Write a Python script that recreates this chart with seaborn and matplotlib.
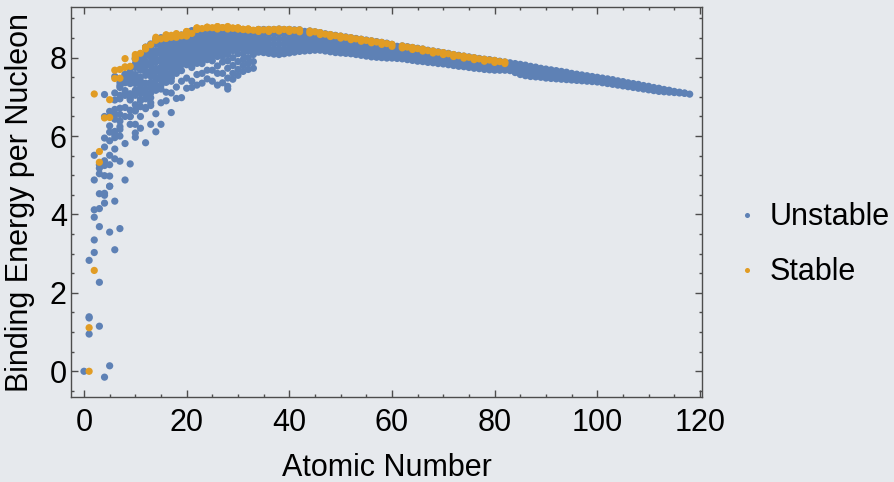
import matplotlib
matplotlib.use("Agg")
import matplotlib.pyplot as plt
from matplotlib.ticker import MultipleLocator
import pandas as pd
import seaborn as sns

# Binding energy per nucleon (MeV), grouped by atomic number.
# Light nuclei Z = 0..33: each isotope chain listed individually.
light_unstable = [
    [0.0],
    [2.83, 1.39, 1.36, 0.95],
    [5.51, 4.88, 4.12, 3.93, 3.35, 3.03],
    [1.15, 2.27, 5.27, 5.18, 5.04, 4.53, 4.15, 3.69],
    [-0.15, 4.49, 5.37, 7.06, 6.50, 5.95, 5.72, 5.25, 4.99, 4.54, 4.29],
    [0.14, 3.55, 4.72, 6.26, 6.63, 6.50, 6.10, 5.88, 5.51, 5.27, 4.98, 4.72],
    [3.10, 4.34, 6.03, 6.68, 7.52, 7.10, 6.92, 6.56, 6.43, 6.12, 5.96, 5.67, 5.42],
    [3.64, 5.36, 6.17, 7.24, 7.37, 7.29, 7.04, 6.95, 6.71, 6.55, 6.38, 6.24, 6.00],
    [4.88, 5.81, 7.05, 7.46, 7.57, 7.57, 7.39, 7.36, 7.16, 7.04, 6.73, 6.50],
    [5.29, 6.50, 6.96, 7.54, 7.63, 7.72, 7.74, 7.62, 7.46, 7.34, 7.08, 6.92, 6.66, 6.50, 6.30],
    [5.97, 6.08, 6.64, 7.34, 7.57, 7.96, 7.99, 7.84, 7.75, 7.52, 7.39, 7.17, 7.04, 6.80, 6.67, 6.30],
    [6.20, 6.94, 7.30, 7.77, 7.92, 8.06, 8.10, 8.00, 7.96, 7.80, 7.68, 7.50, 7.40, 7.22, 7.10, 6.90, 6.75, 6.50],
    [5.83, 6.73, 7.11, 7.66, 7.90, 8.26, 8.27, 8.11, 8.05, 7.87, 7.80, 7.64, 7.55, 7.35, 7.20, 7.05, 6.95, 6.70],
    [6.30, 6.78, 7.34, 7.65, 8.02, 8.15, 8.31, 8.35, 8.26, 8.23, 8.10, 8.02, 7.86, 7.79, 7.62, 7.53, 7.37, 7.25, 7.10, 6.98, 6.85],
    [6.11, 6.57, 7.17, 7.48, 7.92, 8.12, 8.46, 8.48, 8.36, 8.34, 8.17, 8.09, 7.95, 7.89, 7.73, 7.64, 7.48, 7.42, 7.28, 7.18],
    [6.30, 6.85, 7.20, 7.66, 7.91, 8.25, 8.35, 8.46, 8.51, 8.45, 8.45, 8.31, 8.27, 8.14, 8.10, 7.97, 7.91, 7.76, 7.68, 7.55, 7.45, 7.30],
    [6.90, 7.12, 7.48, 7.75, 8.12, 8.28, 8.54, 8.46, 8.45, 8.34, 8.33, 8.23, 8.19, 8.06, 7.99, 7.85, 7.77, 7.62, 7.50, 7.37],
    [6.60, 7.10, 7.48, 7.87, 8.07, 8.30, 8.40, 8.52, 8.51, 8.49, 8.43, 8.41, 8.33, 8.29, 8.18, 8.11, 7.97, 7.88, 7.75, 7.62, 7.50, 7.40],
    [6.96, 7.25, 7.70, 7.93, 8.20, 8.33, 8.53, 8.56, 8.53, 8.56, 8.49, 8.49, 8.42, 8.41, 8.29, 8.21, 8.07, 7.97, 7.84, 7.75, 7.60],
    [6.98, 7.40, 7.67, 7.97, 8.14, 8.34, 8.44, 8.54, 8.55, 8.58, 8.55, 8.55, 8.52, 8.51, 8.43, 8.37, 8.29, 8.22, 8.12, 8.03, 7.90, 7.82],
    [7.22, 7.48, 7.82, 8.00, 8.24, 8.37, 8.55, 8.63, 8.64, 8.59, 8.55, 8.48, 8.43, 8.33, 8.25, 8.15, 8.06, 7.95, 7.85],
    [7.24, 7.40, 7.75, 8.01, 8.17, 8.37, 8.44, 8.53, 8.56, 8.62, 8.67, 8.66, 8.69, 8.63, 8.60, 8.53, 8.48, 8.39, 8.31, 8.22, 8.13, 8.03, 7.95, 7.85],
    [7.30, 7.57, 7.86, 8.03, 8.26, 8.35, 8.53, 8.56, 8.71, 8.69, 8.63, 8.60, 8.52, 8.47, 8.38, 8.32, 8.21, 8.14, 8.03, 7.96, 7.86],
    [7.35, 7.60, 7.85, 8.07, 8.21, 8.38, 8.49, 8.58, 8.62, 8.68, 8.71, 8.71, 8.66, 8.64, 8.57, 8.54, 8.46, 8.41, 8.32, 8.26, 8.17, 8.10, 8.00, 7.92],
    [7.46, 7.68, 7.95, 8.09, 8.30, 8.41, 8.57, 8.61, 8.71, 8.73, 8.72, 8.66, 8.64, 8.56, 8.53, 8.45, 8.40, 8.30, 8.24, 8.14, 8.08, 7.98],
    [7.40, 7.68, 7.92, 8.14, 8.27, 8.44, 8.53, 8.63, 8.67, 8.73, 8.74, 8.74, 8.74, 8.70, 8.68, 8.63, 8.60, 8.53, 8.49, 8.41, 8.36, 8.27, 8.21, 8.12, 8.05],
    [7.30, 7.60, 7.79, 8.03, 8.16, 8.35, 8.46, 8.61, 8.65, 8.75, 8.75, 8.76, 8.70, 8.69, 8.63, 8.61, 8.53, 8.50, 8.41, 8.36, 8.27, 8.22, 8.12, 8.06],
    [7.36, 7.60, 7.89, 8.09, 8.20, 8.48, 8.57, 8.67, 8.69, 8.74, 8.74, 8.75, 8.76, 8.72, 8.72, 8.68, 8.66, 8.60, 8.57, 8.50, 8.46, 8.38, 8.33, 8.25, 8.19, 8.10, 8.04],
    [7.20, 7.27, 7.48, 7.73, 7.92, 8.08, 8.22, 8.39, 8.50, 8.64, 8.67, 8.74, 8.76, 8.74, 8.74, 8.70, 8.68, 8.62, 8.60, 8.54, 8.51, 8.44, 8.40, 8.33, 8.28, 8.20, 8.14],
    [7.45, 7.60, 7.80, 8.00, 8.23, 8.36, 8.50, 8.57, 8.64, 8.67, 8.72, 8.72, 8.74, 8.73, 8.74, 8.70, 8.70, 8.65, 8.64, 8.59, 8.57, 8.51, 8.48, 8.42, 8.38, 8.31, 8.26, 8.18],
    [7.55, 7.70, 7.90, 8.10, 8.23, 8.40, 8.47, 8.58, 8.61, 8.68, 8.69, 8.72, 8.72, 8.69, 8.69, 8.65, 8.64, 8.59, 8.58, 8.53, 8.51, 8.45, 8.42, 8.35, 8.30],
    [7.65, 7.80, 7.95, 8.10, 8.24, 8.35, 8.45, 8.52, 8.58, 8.66, 8.67, 8.71, 8.70, 8.72, 8.69, 8.69, 8.66, 8.66, 8.62, 8.61, 8.57, 8.55, 8.51, 8.48, 8.42, 8.37, 8.30],
    [7.70, 7.85, 8.00, 8.17, 8.26, 8.37, 8.46, 8.53, 8.57, 8.63, 8.68, 8.70, 8.70, 8.67, 8.67, 8.63, 8.63, 8.58, 8.56, 8.50, 8.46, 8.40, 8.35],
    [7.73, 7.90, 8.08, 8.20, 8.30, 8.41, 8.47, 8.55, 8.58, 8.64, 8.66, 8.69, 8.68, 8.68, 8.69, 8.67, 8.68, 8.65, 8.65, 8.60, 8.58, 8.52, 8.48, 8.43, 8.38],
]

light_stable = [
    [], [0.0, 1.112], [2.573, 7.074], [5.332, 5.606], [6.463], [6.475, 6.928],
    [7.680, 7.470], [7.476, 7.699], [7.976, 7.751, 7.767], [7.779], [8.032, 7.972, 8.080],
    [8.112], [8.261, 8.223, 8.264], [8.332], [8.448, 8.448, 8.521], [8.481],
    [8.493, 8.498, 8.583, 8.575], [8.520, 8.570], [8.520, 8.614, 8.595], [8.557, 8.576],
    [8.551, 8.600, 8.595, 8.658, 8.668, 8.666], [8.619], [8.723, 8.739, 8.760, 8.756, 8.723],
    [8.742], [8.776, 8.760, 8.778], [8.765], [8.732, 8.790, 8.770, 8.792], [8.768],
    [8.732, 8.781, 8.765, 8.795, 8.764], [8.752, 8.757], [8.736, 8.760, 8.732, 8.756, 8.754],
    [8.718, 8.726], [8.732, 8.732, 8.716, 8.705], [8.701],
]

# Heavier nuclei Z = 34..118: the unstable points form a dense band,
# listed column by column from its lower to its upper edge.
heavy_unstable = [
    [8.14, 8.26, 8.38, 8.50, 8.61, 8.72],
    [8.13, 8.25, 8.37, 8.49, 8.61, 8.72],
    [8.11, 8.23, 8.35, 8.47, 8.60, 8.72],
    [8.09, 8.21, 8.34, 8.47, 8.60, 8.72],
    [8.08, 8.21, 8.34, 8.47, 8.60, 8.73],
    [8.10, 8.22, 8.35, 8.47, 8.60, 8.72],
    [8.12, 8.24, 8.36, 8.48, 8.60, 8.72],
    [8.14, 8.25, 8.37, 8.48, 8.60, 8.71],
    [8.16, 8.27, 8.38, 8.49, 8.60, 8.71],
    [8.17, 8.28, 8.39, 8.50, 8.61, 8.67],
    [8.18, 8.28, 8.38, 8.48, 8.58, 8.68],
    [8.19, 8.29, 8.39, 8.48, 8.57, 8.66],
    [8.19, 8.28, 8.37, 8.46, 8.55, 8.64],
    [8.17, 8.26, 8.35, 8.44, 8.53, 8.61],
    [8.15, 8.24, 8.33, 8.42, 8.51, 8.59],
    [8.13, 8.22, 8.31, 8.40, 8.49, 8.57],
    [8.12, 8.21, 8.30, 8.38, 8.47, 8.55],
    [8.11, 8.20, 8.29, 8.37, 8.45, 8.53],
    [8.10, 8.19, 8.27, 8.35, 8.43, 8.51],
    [8.08, 8.17, 8.25, 8.33, 8.41, 8.49],
    [8.06, 8.15, 8.23, 8.31, 8.39, 8.47],
    [8.04, 8.13, 8.21, 8.29, 8.37, 8.45],
    [8.02, 8.11, 8.19, 8.27, 8.35, 8.43],
    [8.01, 8.10, 8.18, 8.26, 8.34, 8.41],
    [8.00, 8.08, 8.16, 8.24, 8.32, 8.39],
    [7.99, 8.07, 8.15, 8.22, 8.30, 8.37],
    [7.99, 8.06, 8.13, 8.20, 8.27, 8.34],
    [7.98, 8.05, 8.12, 8.19, 8.25, 8.29],
    [7.97, 8.04, 8.11, 8.17, 8.24, 8.30],
    [7.95, 8.02, 8.09, 8.15, 8.22, 8.28],
    [7.93, 8.00, 8.07, 8.13, 8.20, 8.26],
    [7.91, 7.98, 8.05, 8.11, 8.18, 8.24],
    [7.90, 7.96, 8.03, 8.09, 8.16, 8.22],
    [7.88, 7.94, 8.01, 8.07, 8.13, 8.19],
    [7.87, 7.93, 7.99, 8.05, 8.11, 8.17],
    [7.85, 7.91, 7.97, 8.03, 8.09, 8.15],
    [7.84, 7.90, 7.96, 8.02, 8.08, 8.13],
    [7.82, 7.88, 7.94, 8.00, 8.06, 8.11],
    [7.80, 7.86, 7.92, 7.97, 8.03, 8.08],
    [7.78, 7.84, 7.90, 7.95, 8.01, 8.06],
    [7.77, 7.83, 7.88, 7.93, 7.99, 8.04],
    [7.75, 7.81, 7.86, 7.91, 7.97, 8.02],
    [7.73, 7.79, 7.84, 7.89, 7.95, 8.00],
    [7.72, 7.77, 7.82, 7.88, 7.93, 7.98],
    [7.70, 7.75, 7.81, 7.86, 7.91, 7.96],
    [7.69, 7.74, 7.80, 7.85, 7.90, 7.95],
    [7.68, 7.73, 7.78, 7.83, 7.88, 7.93],
    [7.68, 7.73, 7.77, 7.82, 7.86, 7.91],
    [7.68, 7.72, 7.77, 7.81, 7.85, 7.89],
    [7.67, 7.72, 7.77, 7.82, 7.87],
    [7.62, 7.68, 7.74, 7.80, 7.85],
    [7.57, 7.64, 7.70, 7.77, 7.83],
    [7.54, 7.61, 7.68, 7.75, 7.81],
    [7.52, 7.59, 7.66, 7.72, 7.78],
    [7.51, 7.57, 7.64, 7.70, 7.76],
    [7.50, 7.56, 7.62, 7.68, 7.73],
    [7.48, 7.54, 7.60, 7.66, 7.71],
    [7.47, 7.53, 7.58, 7.64, 7.69],
    [7.46, 7.51, 7.57, 7.62, 7.67],
    [7.45, 7.50, 7.55, 7.60, 7.65],
    [7.44, 7.49, 7.54, 7.58, 7.63],
    [7.43, 7.48, 7.52, 7.56, 7.60],
    [7.42, 7.46, 7.50, 7.54, 7.58],
    [7.41, 7.45, 7.49, 7.52, 7.56],
    [7.40, 7.44, 7.47, 7.51, 7.54],
    [7.39, 7.43, 7.46, 7.49, 7.52],
    [7.38, 7.42, 7.46, 7.50],
    [7.36, 7.40, 7.44, 7.48],
    [7.34, 7.38, 7.42, 7.46],
    [7.32, 7.36, 7.40, 7.44],
    [7.30, 7.34, 7.37, 7.41],
    [7.28, 7.32, 7.35, 7.39],
    [7.26, 7.29, 7.33, 7.36],
    [7.24, 7.27, 7.31, 7.34],
    [7.22, 7.25, 7.29, 7.32],
    [7.20, 7.25, 7.29],
    [7.18, 7.23, 7.27],
    [7.16, 7.20, 7.24],
    [7.14, 7.18, 7.22],
    [7.13, 7.16, 7.19],
    [7.12, 7.15, 7.17],
    [7.11, 7.14],
    [7.10, 7.12],
    [7.09, 7.10],
    [7.07],
]

# stable isotopes for Z = 34..82 (no stable Tc / Pm)
heavy_stable = [
    [8.67, 8.72], [8.71], [8.67, 8.72], [8.72], [8.68, 8.73], [8.72], [8.67, 8.72],
    [8.70], [8.66, 8.71], [], [8.63, 8.68], [8.66], [8.59, 8.64], [8.60],
    [8.54, 8.59], [8.56], [8.50, 8.55], [8.52], [8.46, 8.51], [8.48], [8.42, 8.47],
    [8.44], [8.38, 8.43], [8.40], [8.34, 8.39], [8.36], [8.29, 8.34], [],
    [8.25, 8.30], [8.27], [8.21, 8.26], [8.23], [8.17, 8.22], [8.18], [8.12, 8.17],
    [8.14], [8.08, 8.13], [8.10], [8.03, 8.08], [8.05], [7.99, 8.04], [8.01],
    [7.95, 8.00], [7.97], [7.91, 7.96], [7.94], [7.88, 7.93], [7.90], [7.85, 7.89],
]

Z_HEAVY_START = 34

rows = []
for z, vals in enumerate(light_unstable):
    rows += [(z, v, "Unstable") for v in vals]
for i, vals in enumerate(heavy_unstable):
    rows += [(Z_HEAVY_START + i, v, "Unstable") for v in vals]
for z, vals in enumerate(light_stable):
    rows += [(z, v, "Stable") for v in vals]
for i, vals in enumerate(heavy_stable):
    rows += [(Z_HEAVY_START + i, v, "Stable") for v in vals]
df = pd.DataFrame(rows, columns=["Z", "BE", "kind"])

BG = "#e6e9ed"
FRAME = "#4d4d4d"
FS = 22

sns.set_theme(style="ticks")
plt.rcParams["font.family"] = ["Liberation Sans", "DejaVu Sans"]
plt.rcParams["text.color"] = "black"
plt.rcParams["axes.labelcolor"] = "black"

fig = plt.figure(figsize=(8.94, 4.82), dpi=100, facecolor=BG)
ax = fig.add_axes([71 / 894, 1 - 397 / 482, 631 / 894, 390 / 482])
ax.set_facecolor(BG)

sns.scatterplot(
    data=df,
    x="Z",
    y="BE",
    hue="kind",
    hue_order=["Unstable", "Stable"],
    palette={"Unstable": "#5e81b5", "Stable": "#e19c24"},
    s=27,
    linewidth=0,
    alpha=1.0,
    ax=ax,
)

ax.set_xlim(-2.53, 120.4)
ax.set_ylim(-0.656, 9.293)
ax.xaxis.set_major_locator(MultipleLocator(20))
ax.xaxis.set_minor_locator(MultipleLocator(5))
ax.yaxis.set_major_locator(MultipleLocator(2))
ax.yaxis.set_minor_locator(MultipleLocator(0.5))
ax.tick_params(which="both", direction="in", top=True, right=True, color=FRAME, width=1.0)
ax.tick_params(which="major", length=5)
ax.tick_params(which="minor", length=2.5)
ax.tick_params(axis="x", which="major", labelsize=FS, pad=8, labelcolor="black")
ax.tick_params(axis="y", which="major", labelsize=FS, pad=3, labelcolor="black")
for sp in ax.spines.values():
    sp.set_color(FRAME)
    sp.set_linewidth(1.0)

ax.set_xlabel("Atomic Number", fontsize=FS, color="black")
ax.set_ylabel("Binding Energy per Nucleon", fontsize=FS, color="black")
ax.xaxis.set_label_coords(0.5, -0.182)
ax.xaxis.label.set_verticalalignment("center")
ax.yaxis.set_label_coords(-0.081, 0.5)
ax.yaxis.label.set_verticalalignment("center")

handles, labels = ax.get_legend_handles_labels()
ax.get_legend().remove()
leg = fig.legend(
    handles,
    labels,
    loc="center left",
    bbox_to_anchor=(0.788, 0.492),
    frameon=False,
    fontsize=FS,
    markerscale=0.7,
    handlelength=1.0,
    handletextpad=0.22,
    labelspacing=0.82,
)
for t in leg.get_texts():
    t.set_color("black")

fig.savefig("out.png", dpi=100, facecolor=BG)
